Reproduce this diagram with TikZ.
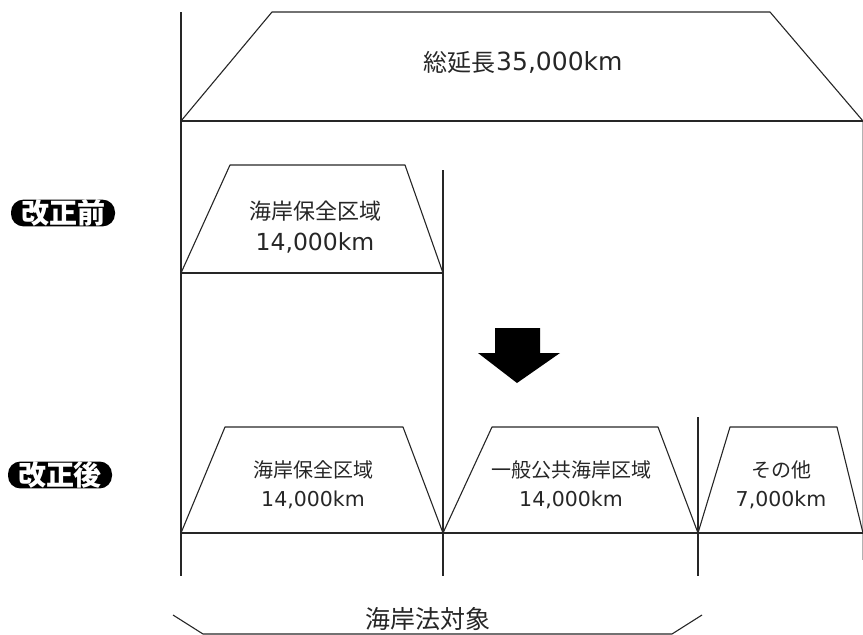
\documentclass[tikz,border=0pt]{standalone}
\usepackage{fontspec}
\newfontfamily\jp{Noto Sans CJK JP}
\newfontfamily\num{DejaVu Sans}
\begin{document}
\begin{tikzpicture}[x=1pt,y=-1pt,
  ln/.style={line width=1.1pt,draw=black!85,line join=round},
  jtxt/.style={inner sep=0pt,font=\jp\fontsize{20}{20}\selectfont,text=black!85},
  jbig/.style={inner sep=0pt,font=\jp\fontsize{22}{22}\selectfont,text=black!85},
  ntxt/.style={inner sep=0pt,font=\num\fontsize{20.5}{20}\selectfont,text=black!85},
  nbig/.style={inner sep=0pt,font=\num\fontsize{23.5}{22}\selectfont,text=black!85},
  pill/.style={fill=black,rounded corners=12.5pt,minimum width=104pt,minimum height=25pt,inner sep=0pt,text=white,font=\jp\bfseries\fontsize{28}{28}\selectfont}
]
\useasboundingbox (0,0) rectangle (863,635);
% frame coordinates
\coordinate (L0) at (181,12);
\coordinate (L1) at (181,576);
\coordinate (M0) at (443,170);
\coordinate (M1) at (443,576);
\coordinate (R0) at (698,417);
\coordinate (R1) at (698,576);
\coordinate (E0) at (862,121);
\coordinate (E1) at (862,560);
% verticals
\draw[ln] (L0) -- (L1);
\draw[ln] (M0) -- (M1);
\draw[ln] (R0) -- (R1);
\draw[line width=0.8pt,draw=black!30] (E0) -- (E1);
% top trapezoid
\draw[ln] (181,121) -- (272,12) -- (770,12) -- (863,121);
\draw[ln] (181,121) -- (863,121);
\node[inner sep=0pt,font=\jp\fontsize{24}{24}\selectfont,text=black!85,anchor=east] (totj) at (496,62) {総延長};
\node[inner sep=0pt,font=\num\fontsize{25}{24}\selectfont,text=black!85,anchor=west] (totn) at (496,62) {35,000km};
% before row
\draw[ln] (181,273) -- (230,165) -- (405,165) -- (443,273);
\draw[ln] (181,273) -- (443,273);
\node[jbig] (b1j) at (315,211) {海岸保全区域};
\node[nbig] (b1n) at (315,243) {14,000km};
% after row
\draw[ln] (181,533) -- (863,533);
\draw[ln] (181,533) -- (225,427) -- (403,427) -- (443,533);
\draw[ln] (443,533) -- (492,427) -- (658,427) -- (698,533);
\draw[ln] (698,533) -- (730,427) -- (837,427) -- (863,533);
\node[jtxt] (a1j) at (313,470) {海岸保全区域};
\node[ntxt] (a1n) at (313,500) {14,000km};
\node[jtxt] (a2j) at (571,470) {一般公共海岸区域};
\node[ntxt] (a2n) at (571,500) {14,000km};
\node[jtxt] (a3j) at (781,470) {その他};
\node[ntxt] (a3n) at (781,500) {7,000km};
% arrow
\fill[black] (495,328) -- (540,328) -- (540,353) -- (560,353) -- (517,383) -- (478,353) -- (495,353) -- cycle;
% labels
\node[pill] (before) at (63,213) {改正前};
\node[pill] (after) at (60,475) {改正後};
% bottom brace
\draw[ln] (173,615) -- (203,634) -- (672,634) -- (702,615);
\node[inner sep=0pt,font=\jp\fontsize{25}{25}\selectfont,text=black!85] (law) at (428,619) {海岸法対象};
\end{tikzpicture}
\end{document}
